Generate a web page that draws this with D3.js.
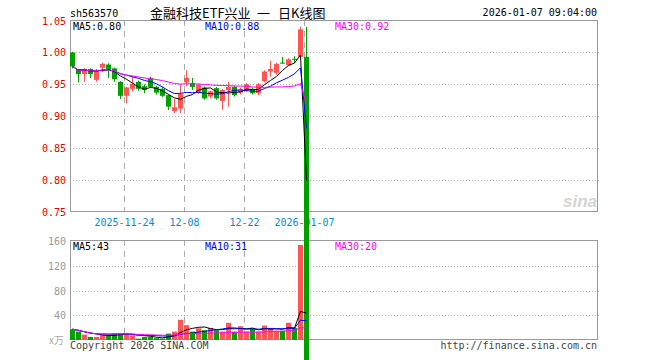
<!DOCTYPE html>
<html>
<head>
<meta charset="utf-8">
<script src="https://cdn.jsdelivr.net/npm/d3@7"></script>
<style>
  body { margin: 0; background: #fff; }
  svg { display: block; }
  .mono { font-family: "DejaVu Sans Mono", monospace; font-size: 10px; }
  .cjk { font-family: "Noto Sans CJK SC", sans-serif; font-size: 13px; }
</style>
</head>
<body>
<div id="chart"></div>
<script>
// trading days and daily OHLC / volume
var dates = ['2025-11-11','2025-11-12','2025-11-13','2025-11-14','2025-11-17','2025-11-18','2025-11-19','2025-11-20','2025-11-21','2025-11-24',
             '2025-11-25','2025-11-26','2025-11-27','2025-11-28','2025-12-01','2025-12-02','2025-12-03','2025-12-04','2025-12-05','2025-12-08',
             '2025-12-09','2025-12-10','2025-12-11','2025-12-12','2025-12-15','2025-12-16','2025-12-17','2025-12-18','2025-12-19','2025-12-22',
             '2025-12-23','2025-12-24','2025-12-25','2025-12-26','2025-12-29','2025-12-30','2025-12-31','2026-01-05','2026-01-06','2026-01-07'];
var open  = [1.000,0.974,0.966,0.974,0.957,0.976,0.981,0.975,0.954,0.932,0.943,0.954,0.947,0.960,0.946,0.943,0.933,0.908,0.912,0.953,
             0.952,0.938,0.945,0.931,0.944,0.924,0.941,0.946,0.937,0.941,0.943,0.936,0.955,0.970,0.968,0.984,0.980,0.990,0.993,0.993];
var high  = [1.001,0.974,0.975,0.975,0.974,0.984,0.983,0.976,0.955,0.946,0.962,0.956,0.950,0.962,0.948,0.946,0.934,0.927,0.950,0.972,
             0.960,0.951,0.947,0.940,0.946,0.943,0.954,0.948,0.945,0.952,0.945,0.952,0.972,0.987,0.984,0.993,0.991,0.994,1.040,1.040];
var low   = [0.975,0.953,0.954,0.960,0.954,0.969,0.960,0.954,0.927,0.920,0.939,0.940,0.936,0.944,0.934,0.930,0.910,0.905,0.905,0.947,
             0.941,0.935,0.926,0.928,0.926,0.910,0.915,0.931,0.934,0.938,0.934,0.933,0.953,0.962,0.965,0.982,0.979,0.983,0.993,0.000];
var close = [0.978,0.966,0.974,0.966,0.970,0.982,0.973,0.958,0.932,0.945,0.951,0.943,0.941,0.946,0.937,0.932,0.915,0.914,0.935,0.960,
             0.946,0.949,0.928,0.939,0.928,0.941,0.946,0.933,0.942,0.950,0.936,0.950,0.970,0.974,0.982,0.983,0.989,0.989,1.036,0.000];
var volume = [17.5,13.6,8.7,4.9,4.9,8.7,8.7,10.3,10.3,10.3,7.6,2.2,4.9,4.9,3.0,2.2,10.3,13.6,32.6,24.0,
              13.6,19.0,15.8,19.6,15.8,13.6,27.8,13.6,22.3,13.6,19.0,13.6,23.4,19.6,15.0,15.0,27.8,19.6,153.5,2.0];

// axis ticks and labels
var priceTicks = [1.05, 1.00, 0.95, 0.90, 0.85, 0.80, 0.75];
var volTicks = [160, 120, 80, 40];
var tickDates = ['2025-11-24', '2025-12-08', '2025-12-22', '2026-01-07'];
var tickLabels = ['2025-11-24', '12-08', '12-22', '2026-01-07'];

// moving averages shown in the legends
var maNames = ['MA5', 'MA10', 'MA30'];
var maWindows = [5, 10, 30];
var maColors = ['#000000', '#0000ff', '#ff00ff'];
var priceMaText = ['0.80', '0.88', '0.92'];
var volMaText = ['43', '31', '20'];

// title pieces
var titleParts = ['金融科技ETF兴业', '一', '日K线图'];

var width = 660, height = 360;
var left = 70, right = 597;
var mainTop = 20, mainBottom = 212;
var volTop = 240, volBottom = 340;
var up = '#ff5555', down = '#00a000';

var svg = d3.select('#chart').append('svg')
    .attr('width', width)
    .attr('height', height);

var x = d3.scaleLinear().domain([0, 87]).range([72.5, 72.5 + 87 * 6]);
var y = d3.scaleLinear().domain([0.75, 1.05]).range([mainBottom, 20.5]);
var yv = d3.scaleLinear().domain([0, 160]).range([volBottom, 241]);

function idx(d) { return dates.indexOf(d); }

// moving average over what is available so far
function movingAvg(arr, n) {
    return arr.map(function(v, i) {
        var s = arr.slice(Math.max(0, i - n + 1), i + 1);
        return d3.mean(s);
    });
}

// grid lines
[[mainTop, mainBottom], [volTop, volBottom - 1]].forEach(function(p) {
    svg.append('g').selectAll('line')
        .data(tickDates)
        .enter().append('line')
        .attr('x1', d => x(idx(d)) - 2)
        .attr('x2', d => x(idx(d)) - 2)
        .attr('y1', p[0]).attr('y2', p[1])
        .attr('stroke', '#aaa')
        .attr('stroke-dasharray', '6,5');
});

svg.append('g').selectAll('line')
    .data(priceTicks.slice(1, -1))
    .enter().append('line')
    .attr('x1', left).attr('x2', right + 2)
    .attr('y1', d => Math.round(y(d)) + 0.5)
    .attr('y2', d => Math.round(y(d)) + 0.5)
    .attr('stroke', '#aaa')
    .attr('stroke-dasharray', '1,2');

svg.append('g').selectAll('line')
    .data(volTicks.slice(1))
    .enter().append('line')
    .attr('x1', left).attr('x2', right + 2)
    .attr('y1', d => Math.round(yv(d)) + 0.5)
    .attr('y2', d => Math.round(yv(d)) + 0.5)
    .attr('stroke', '#aaa')
    .attr('stroke-dasharray', '1,2');

// frames
svg.append('rect')
    .attr('x', left + 0.5).attr('y', mainTop + 0.5)
    .attr('width', right - left).attr('height', mainBottom - mainTop - 1)
    .attr('fill', 'none').attr('stroke', '#999');
svg.append('rect')
    .attr('x', left + 0.5).attr('y', volTop + 0.5)
    .attr('width', right - left).attr('height', volBottom - volTop - 1)
    .attr('fill', 'none').attr('stroke', '#999');

// sina watermark
svg.append('text')
    .attr('x', 597).attr('y', 207)
    .attr('text-anchor', 'end')
    .style('font-family', 'Liberation Sans, Arial, sans-serif')
    .style('font-size', '17px')
    .style('font-weight', 'bold')
    .style('font-style', 'italic')
    .attr('fill', '#d4d4d4')
    .text('sina');

// price axis labels
svg.append('g').selectAll('text')
    .data(priceTicks)
    .enter().append('text')
    .attr('class', 'mono')
    .attr('x', 66).attr('y', d => y(d) + 4)
    .attr('text-anchor', 'end')
    .attr('fill', '#e60000')
    .text(d => d.toFixed(2));

// volume axis labels
svg.append('g').selectAll('text')
    .data(volTicks)
    .enter().append('text')
    .attr('class', 'mono')
    .attr('x', 66).attr('y', d => yv(d) + 4)
    .attr('text-anchor', 'end')
    .attr('fill', '#999')
    .text(d => d);

svg.append('text')
    .attr('x', 49).attr('y', 344)
    .style('font-family', 'Noto Sans CJK SC, sans-serif')
    .style('font-size', '10px')
    .attr('fill', '#aaa')
    .text('x万');

// date labels
svg.append('g').selectAll('text')
    .data(tickDates)
    .enter().append('text')
    .attr('class', 'mono')
    .attr('x', d => x(idx(d)) - 2)
    .attr('y', 225.5)
    .attr('text-anchor', 'middle')
    .attr('fill', '#0a8ad6')
    .text((d, i) => tickLabels[i]);

// volume bars
svg.append('g').selectAll('rect')
    .data(volume)
    .enter().append('rect')
    .attr('x', (d, i) => x(i) - 2.5)
    .attr('y', d => yv(d))
    .attr('width', 5)
    .attr('height', d => yv(0) - yv(d))
    .attr('fill', (d, i) => close[i] >= open[i] ? up : down);

// candles (not clipped, the last one runs off the chart)
var candles = svg.append('g').selectAll('g')
    .data(dates)
    .enter().append('g');

candles.append('line')
    .attr('x1', (d, i) => x(i)).attr('x2', (d, i) => x(i))
    .attr('y1', (d, i) => y(high[i]))
    .attr('y2', (d, i) => y(low[i]))
    .attr('stroke', (d, i) => close[i] >= open[i] ? up : down);

candles.append('rect')
    .attr('x', (d, i) => x(i) - 2.5)
    .attr('y', (d, i) => y(Math.max(open[i], close[i])))
    .attr('width', 5)
    .attr('height', (d, i) => Math.max(1, Math.abs(y(open[i]) - y(close[i]))))
    .attr('fill', (d, i) => close[i] >= open[i] ? up : down);

// moving average lines
maWindows.forEach(function(n, k) {
    var pm = movingAvg(close, n);
    svg.append('path')
        .datum(pm)
        .attr('fill', 'none')
        .attr('stroke', maColors[k])
        .attr('stroke-width', 1)
        .attr('d', d3.line().x((d, i) => x(i)).y(d => y(d)));

    var vm = movingAvg(volume, n);
    svg.append('path')
        .datum(vm)
        .attr('fill', 'none')
        .attr('stroke', maColors[k])
        .attr('stroke-width', 1)
        .attr('d', d3.line().x((d, i) => x(i)).y(d => yv(d)));
});

// legends
var legendX = [73, 205, 335];
maNames.forEach(function(name, k) {
    svg.append('text')
        .attr('class', 'mono')
        .attr('x', legendX[k]).attr('y', 30)
        .attr('fill', maColors[k])
        .text(name + ':' + priceMaText[k]);
    svg.append('text')
        .attr('class', 'mono')
        .attr('x', legendX[k]).attr('y', 250)
        .attr('fill', maColors[k])
        .text(name + ':' + volMaText[k]);
});

// header
svg.append('text')
    .attr('class', 'mono')
    .attr('x', 70).attr('y', 16.5)
    .attr('fill', '#000')
    .text('sh563570');

var titleX = [150, 257, 278];
svg.append('g').selectAll('text')
    .data(titleParts)
    .enter().append('text')
    .attr('class', 'cjk')
    .attr('x', (d, i) => titleX[i]).attr('y', 17.5)
    .attr('fill', '#000')
    .text(d => d);

svg.append('text')
    .attr('class', 'mono')
    .attr('x', 597).attr('y', 16)
    .attr('text-anchor', 'end')
    .attr('fill', '#000')
    .text('2026-01-07 09:04:00');

// footer
svg.append('text')
    .attr('class', 'mono')
    .attr('x', 70).attr('y', 348.5)
    .attr('fill', '#444')
    .text('Copyright 2026 SINA.COM');

svg.append('text')
    .attr('class', 'mono')
    .attr('x', 597).attr('y', 348.5)
    .attr('text-anchor', 'end')
    .attr('fill', '#444')
    .text('http://finance.sina.com.cn');
</script>
</body>
</html>
